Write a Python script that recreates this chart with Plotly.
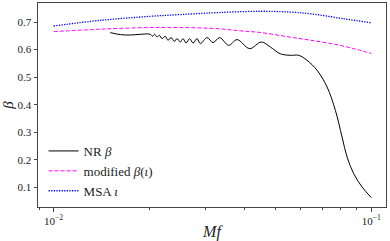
import plotly.graph_objects as go

# NR beta
nr_mf = [0.01508, 0.01622, 0.01743, 0.01875, 0.02016, 0.02049, 0.02079, 0.02116,
         0.02152, 0.02194, 0.02247, 0.02291, 0.02342, 0.02399, 0.02446, 0.02506,
         0.02555, 0.02611, 0.02680, 0.02747, 0.02828, 0.02896, 0.03040, 0.03175,
         0.03331, 0.03556, 0.03779, 0.04139, 0.04506, 0.04809, 0.05168, 0.05559,
         0.05904, 0.06273, 0.06746, 0.07255, 0.07703, 0.08087, 0.08385, 0.08796,
         0.09348, 0.1]
nr_beta = [0.6615, 0.6543, 0.6528, 0.6554, 0.6554, 0.6481, 0.6554, 0.6456,
           0.6517, 0.6397, 0.6481, 0.6336, 0.6434, 0.6299, 0.6397, 0.6274,
           0.6397, 0.6238, 0.6397, 0.6238, 0.6397, 0.6216, 0.6434, 0.6252,
           0.6434, 0.6154, 0.6361, 0.6034, 0.6274, 0.6093, 0.5846, 0.5791,
           0.5791, 0.5610, 0.5247, 0.4641, 0.3795, 0.2826, 0.2100, 0.1497,
           0.1010, 0.0626]

# modified beta(iota)
mod_mf = [0.01, 0.01403, 0.02016, 0.02506, 0.03267, 0.03870, 0.04473, 0.05559,
          0.06427, 0.07987, 0.1]
mod_beta = [0.665, 0.674, 0.680, 0.680, 0.676, 0.668, 0.662, 0.645, 0.634,
            0.615, 0.586]

# MSA iota
msa_mf = [0.01, 0.01403, 0.02016, 0.02506, 0.03267, 0.04473, 0.05559, 0.06427,
          0.08164, 0.1]
msa_iota = [0.6855, 0.706, 0.7207, 0.727, 0.734, 0.739, 0.736, 0.730, 0.712, 0.697]

x_tickvals = [0.01, 0.1]
x_ticktext = ["10<sup>−2</sup>", "10<sup>−1</sup>"]
x_minor = [0.009] + [k * 0.01 for k in range(2, 10)]
y_tickvals = [0.1, 0.2, 0.3, 0.4, 0.5, 0.6, 0.7]

FONT = "Liberation Serif"

fig = go.Figure()
fig.add_trace(go.Scatter(x=nr_mf, y=nr_beta, mode="lines", name="NR <i>β</i>",
                         line=dict(color="black", width=1, shape="spline", smoothing=1)))
fig.add_trace(go.Scatter(x=mod_mf, y=mod_beta, mode="lines", name="modified <i>β</i>(<i>ι</i>)",
                         line=dict(color="#ff00ff", width=1, dash="4px,2px", shape="spline")))
fig.add_trace(go.Scatter(x=msa_mf, y=msa_iota, mode="lines", name="MSA <i>ι</i>",
                         line=dict(color="#0000ff", width=1.3, dash="1.3px,1.3px", shape="spline")))

axis_common = dict(showline=True, linecolor="#444", linewidth=1, mirror=True,
                   showgrid=False, zeroline=False, ticks="outside", tickcolor="#444",
                   ticklen=3.5, tickwidth=0.8, automargin=False,
                   tickfont=dict(family=FONT, size=11, color="#222"))

fig.update_xaxes(type="log", range=[-2.049, -0.954], tickvals=x_tickvals, ticktext=x_ticktext,
                 minor=dict(ticks="outside", ticklen=2, tickvals=x_minor, tickcolor="#444"),
                 title=dict(text="<i>Mf</i>", font=dict(family=FONT, size=16, color="#222"), standoff=3),
                 **axis_common)
fig.update_yaxes(range=[0.0285, 0.769], tickvals=y_tickvals, ticktext=[f"{v:.1f}" for v in y_tickvals],
                 title=dict(text="<i>β</i>", font=dict(family=FONT, size=15, color="#222"), standoff=2),
                 **axis_common)

fig.update_layout(
    width=390, height=241,
    margin=dict(l=38, r=4, t=3, b=34),
    plot_bgcolor="white", paper_bgcolor="white",
    showlegend=True,
    legend=dict(x=0.016, y=0.005, xanchor="left", yanchor="bottom",
                font=dict(family=FONT, size=13, color="#222"),
                bgcolor="rgba(255,255,255,0)", itemwidth=30),
)

fig.write_html("out.html", config={"displayModeBar": False},
               post_script="document.body.style.margin='0';document.body.style.padding='0';")
